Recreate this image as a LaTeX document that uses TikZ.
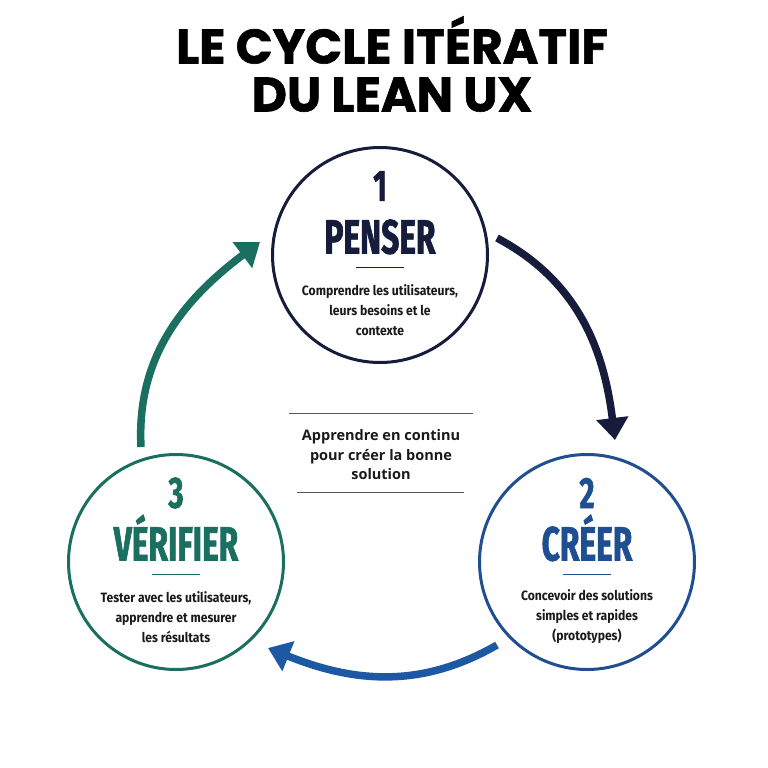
\documentclass[tikz,border=0pt]{standalone}
\usepackage{fontspec}
\usetikzlibrary{arrows.meta}
\setmainfont{Fira Sans}
\newfontfamily\titlefont{Poppins}[FakeBold=1.2]
\newfontfamily\headfont{Fira Sans}[FakeStretch=0.66, FakeBold=1.4]
\newfontfamily\descfont{Fira Sans}[FakeStretch=0.9]
\newfontfamily\notefont{Open Sans}
\definecolor{navy}{HTML}{151C3C}
\definecolor{creerblue}{HTML}{1F4F91}
\definecolor{arrowblue}{HTML}{1D58A4}
\definecolor{tealgreen}{HTML}{1A6F60}
\definecolor{textdark}{HTML}{1A1A1A}
\definecolor{rulegray}{HTML}{555555}
\begin{document}
\begin{tikzpicture}[x=1pt, y=1pt,
      stage/.style={circle, draw, line width=3pt, minimum size=215pt, inner sep=0pt},
      stagenum/.style={font=\headfont\bfseries\fontsize{44}{44}\selectfont, inner sep=0pt},
      stagetitle/.style={font=\headfont\bfseries\fontsize{48}{48}\selectfont, inner sep=0pt, text height=33pt, text depth=0pt},
      stagedesc/.style={font=\descfont\bfseries\fontsize{13.5}{20}\selectfont, text=textdark, align=center, inner sep=0pt},
      cyclearrow/.style={line width=7.5pt, -{Triangle[width=31pt, length=22pt]}}
    ]
    \useasboundingbox[fill=white] (0,0) rectangle (768,-768);

    \node[font=\titlefont\bfseries\fontsize{48.5}{48}\selectfont, align=center] (title) at (392,-64)
      {LE CYCLE ITÉRATIF\\DU LEAN UX};

    \foreach \nm/\cx/\cy/\col/\num/\ttl/\dsc in {
        penser/380/-255/navy/1/PENSER/{Comprendre les utilisateurs,\\leurs besoins et le\\contexte},
        creer/587/-562/creerblue/2/CRÉER/{Concevoir des solutions\\simples et rapides\\(prototypes)},
        verifier/176/-562/tealgreen/3/VÉRIFIER/{Tester avec les utilisateurs,\\apprendre et mesurer\\les résultats}} {
      \node[stage, draw=\col] (\nm) at (\cx,\cy) {};
      \node[stagenum, text=\col] (\nm-num) at ([yshift=69pt]\nm.center) {\num};
      \node[stagetitle, text=\col] (\nm-title) at ([yshift=18pt]\nm.center) {\ttl};
      \draw[\col, line width=1.5pt] ([xshift=-24pt, yshift=-12.5pt]\nm.center) -- ([xshift=24pt, yshift=-12.5pt]\nm.center);
      \node[stagedesc] (\nm-desc) at ([yshift=-55pt]\nm.center) {\dsc};
    }

    % centre
    \node[font=\notefont\bfseries\fontsize{14.5}{19.5}\selectfont, align=center, text=textdark] (lesson) at (381,-455)
      {Apprendre en continu\\pour créer la bonne\\solution};
    \draw[rulegray, line width=1pt] (289,-413) -- (473,-413);
    \draw[rulegray, line width=1pt] (297,-492) -- (464,-492);

    % arrows of the cycle
    \coordinate (a1s) at (497,-238);
    \coordinate (a1e) at (615,-440);
    \coordinate (a2s) at (497,-645);
    \coordinate (a2e) at (268,-648);
    \coordinate (a3s) at (141,-447);
    \coordinate (a3e) at (260,-242);
    \draw[cyclearrow, navy] (a1s) to[out=-28, in=97] (a1e);
    \draw[cyclearrow, arrowblue] (a2s) to[out=-150, in=-22] (a2e);
    \draw[cyclearrow, tealgreen] (a3s) to[out=93, in=-143] (a3e);
\end{tikzpicture}
\end{document}
